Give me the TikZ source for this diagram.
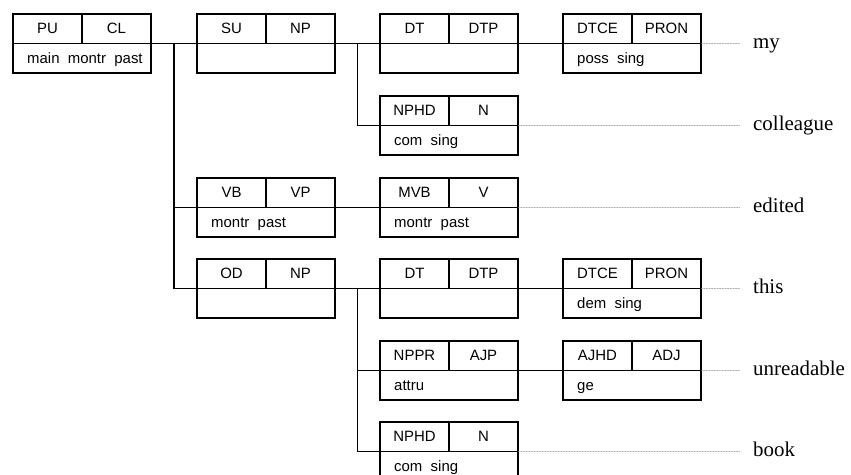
\documentclass[tikz,border=0pt]{standalone}
\usepackage{fontspec}
\setmainfont{Liberation Serif}
\setsansfont{Liberation Sans}
\usetikzlibrary{calc}

\newcommand\constbox[6]{%
  \node[cbox] (#1) at (#2,#3) {};
  \draw[cline] (#1.west) -- (#1.east) (#1.north) -- (#1.center);
  \node[ctext] (#1-fn) at ($(#1.north west)!.5!(#1.center)$) {#4};
  \node[ctext] (#1-cat) at ($(#1.north east)!.5!(#1.center)$) {#5};
  \node[ftext] (#1-ft) at ([shift={(14,20)}]#1.west) {#6};
}

\begin{document}
\begin{tikzpicture}[x=1bp,y=-1bp,
  cline/.style={line width=1.3bp,black},
  cbox/.style={draw,cline,minimum width=138bp,minimum height=59bp,inner sep=0pt,outer sep=0pt,anchor=north west},
  ctext/.style={font=\sffamily\fontsize{15}{18}\selectfont,inner sep=0pt},
  ftext/.style={ctext,anchor=base west},
  word/.style={font=\fontsize{21}{25}\selectfont,anchor=west,inner xsep=13bp,inner ysep=0pt},
  dotline/.style={gray,line width=0.5bp,dash pattern=on 1bp off 0.6bp}]
  \useasboundingbox (0,0) rectangle (851,475);
  \constbox{cl}{13}{14}{PU}{CL}{main~~montr~~past}
  \constbox{su}{197}{14}{SU}{NP}{}
  \constbox{dta}{380}{14}{DT}{DTP}{}
  \constbox{dtcea}{563}{14}{DTCE}{PRON}{poss~~sing}
  \constbox{nphda}{380}{96}{NPHD}{N}{com~~sing}
  \constbox{vb}{197}{178}{VB}{VP}{montr~~past}
  \constbox{mvb}{380}{178}{MVB}{V}{montr~~past}
  \constbox{od}{197}{259}{OD}{NP}{}
  \constbox{dtb}{380}{259}{DT}{DTP}{}
  \constbox{dtceb}{563}{259}{DTCE}{PRON}{dem~~sing}
  \constbox{nppr}{380}{341}{NPPR}{AJP}{attru}
  \constbox{ajhd}{563}{341}{AJHD}{ADJ}{ge}
  \constbox{nphdb}{380}{422}{NPHD}{N}{com~~sing}
  \node[word] (w-my) at (740,43.5) {\strut my};
  \node[word] (w-colleague) at (740,125.5) {\strut colleague};
  \node[word] (w-edited) at (740,207.5) {\strut edited};
  \node[word] (w-this) at (740,288.5) {\strut this};
  \node[word] (w-unreadable) at (740,370.5) {\strut unreadable};
  \node[word] (w-book) at (740,451.5) {\strut book};
  \coordinate (ja) at ($(cl.east)!.5!(su.west)$);
  \coordinate (jb) at ($(su.east)!.5!(dta.west)$);
  \coordinate (jc) at ($(od.east)!.5!(dtb.west)$);
  \draw[cline] (cl.east) -- (su.west);
  \draw[cline] (ja) |- (od.west);
  \draw[cline] (ja |- vb.west) -- (vb.west);
  \draw[cline] (su.east) -- (dta.west);
  \draw[cline] (jb) |- (nphda.west);
  \draw[cline] (dta.east) -- (dtcea.west);
  \draw[cline] (vb.east) -- (mvb.west);
  \draw[cline] (od.east) -- (dtb.west);
  \draw[cline] (jc) |- (nphdb.west);
  \draw[cline] (jc |- nppr.west) -- (nppr.west);
  \draw[cline] (dtb.east) -- (dtceb.west);
  \draw[cline] (nppr.east) -- (ajhd.west);
  \draw[dotline] (dtcea.east) -- (w-my.west);
  \draw[dotline] (nphda.east) -- (w-colleague.west);
  \draw[dotline] (mvb.east) -- (w-edited.west);
  \draw[dotline] (dtceb.east) -- (w-this.west);
  \draw[dotline] (ajhd.east) -- (w-unreadable.west);
  \draw[dotline] (nphdb.east) -- (w-book.west);
\end{tikzpicture}
\end{document}
